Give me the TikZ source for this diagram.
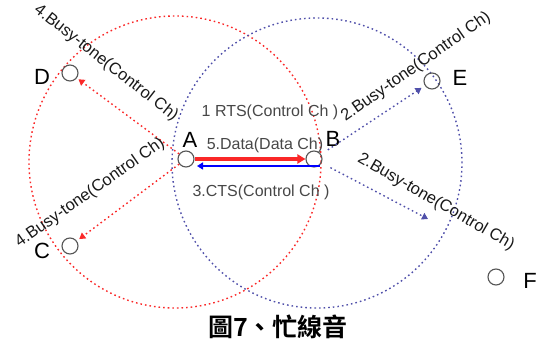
\documentclass[tikz,border=0pt]{standalone}
\usepackage{fontspec}
\setmainfont{Liberation Sans}
\newfontfamily\cjk{Noto Sans CJK TC}[BoldFont={Noto Sans CJK TC Bold}]
\usetikzlibrary{arrows.meta}
\definecolor{redc}{RGB}{250,40,40}
\definecolor{bluec}{RGB}{80,80,170}
\definecolor{stroke}{RGB}{85,85,85}
\tikzset{
  station/.style={circle, draw=stroke, line width=1.1pt, minimum size=16pt, inner sep=0pt},
  letter/.style={font=\fontsize{22}{22}\selectfont, text=black, inner sep=0pt},
  msg/.style={font=\fontsize{16}{16}\selectfont, text=black!72, inner sep=0pt},
  busy/.style={font=\fontsize{16.5}{16.5}\selectfont, text=black!90, inner sep=0pt},
  dotline/.style={line width=1.4pt, dash pattern=on 1.6pt off 3pt},
  reddot/.style={dotline, draw=redc},
  bluedot/.style={dotline, draw=bluec},
}
\begin{document}
\begin{tikzpicture}[x=1pt,y=-1pt]
\useasboundingbox (0,0) rectangle (536,344);
% range circles
\draw[reddot] (175,162) circle (146pt);
\draw[bluedot] (317,163) circle (145pt);
% stations
\node[station] (A) at (186,159) {};
\node[station] (B) at (314,159) {};
\node[station] (D) at (70,73) {};
\node[station] (E) at (432,81) {};
\node[station] (C) at (70,246) {};
\node[station] (F) at (496,277) {};
\node[letter] (lA) at (190,140) {A};
\node[letter] (lB) at (333,139) {B};
\node[letter] (lD) at (42,77) {D};
\node[letter] (lE) at (460,78) {E};
\node[letter] (lC) at (42,251) {C};
\node[letter] (lF) at (530,281) {F};
% data exchange
\draw[draw=redc, line width=4pt, -{Triangle[width=9pt,length=8pt]}] (A.east) -- (B.west);
\draw[draw=blue, line width=2.5pt, -{Triangle[width=7pt,length=6pt]}] ([xshift=6pt,yshift=-7pt]B.center) -- ([xshift=11pt,yshift=-7pt]A.center);
% busy tone arrows
\coordinate (fend) at (428,219);
\draw[reddot, -{Triangle[width=7pt,length=6pt]}, shorten >=2pt] (A) -- (D);
\draw[reddot, -{Triangle[width=7pt,length=6pt]}, shorten >=3pt] (A) -- (C);
\draw[bluedot, -{Triangle[width=7pt,length=6pt]}, shorten >=4pt, shorten <=8pt] (B) -- (E);
\draw[bluedot, -{Triangle[width=7pt,length=6pt]}, shorten <=10pt] (B) -- (fend);
% messages
\node[msg, anchor=base] (rts) at (270,117) {1 RTS(Control Ch )};
\node[msg, anchor=base] (data) at (265,150) {5.Data(Data Ch)};
\node[msg, anchor=base] (cts) at (261,197) {3.CTS(Control Ch )};
\node[busy, rotate=-38] (bD) at (106,63) {4.Busy-tone(Control Ch)};
\node[busy, rotate=35] (bC) at (90,193) {4.Busy-tone(Control Ch)};
\node[busy, rotate=35] (bE) at (416,67) {2.Busy-tone(Control Ch)};
\node[busy, rotate=-30] (bF) at (436,202) {2.Busy-tone(Control Ch)};
% caption
\node[font=\cjk\bfseries\fontsize{25}{25}\selectfont] (cap) at (278,327) {圖7、忙線音};
\end{tikzpicture}
\end{document}
